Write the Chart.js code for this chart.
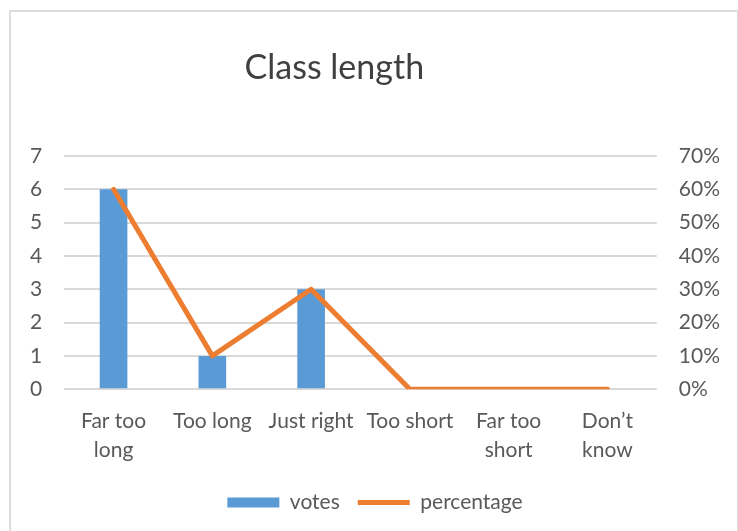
<!DOCTYPE html>
<html>
<head>
<meta charset="utf-8">
<script src="https://cdn.jsdelivr.net/npm/chart.js@4/dist/chart.umd.min.js"></script>
<style>
  html, body { margin: 0; padding: 0; background: #fff; }
  .wrap { position: relative; width: 738px; height: 531px; }
  .frame { position: absolute; left: 9px; top: 10px; width: 726px; height: 530px;
           border: 2px solid #dcdcdc; border-bottom: none; pointer-events: none; }
  canvas { position: absolute; left: 0; top: 0; }
</style>
</head>
<body>
<div class="wrap">
  <canvas id="chart" width="738" height="531"></canvas>
  <div class="frame"></div>
</div>
<script>
// chart data
const titleText = 'Class length';
const categories = [['Far too', 'long'], 'Too long', 'Just right', 'Too short', ['Far too', 'short'], ['Don\u2019t', 'know']];
const votes = [6, 1, 3, 0, 0, 0];
const percentage = [60, 10, 30, 0, 0, 0];

const font = 'Lato, "Open Sans", sans-serif';
const textColor = '#595959';
const gridColor = '#d9d9d9';

// draws the title off-centre like the original
const titlePlugin = {
    id: 'sideTitle',
    afterDraw(chart) {
        const ctx = chart.ctx;
        ctx.save();
        ctx.font = '34px ' + font;
        ctx.fillStyle = '#404040';
        ctx.textAlign = 'center';
        ctx.textBaseline = 'alphabetic';
        ctx.fillText(titleText, chart.width * 0.453, 79);
        ctx.restore();
    }
};

const ctx = document.getElementById('chart');
new Chart(ctx, {
    data: {
        labels: categories,
        datasets: [{
            type: 'line',
            label: 'percentage',
            data: percentage,
            yAxisID: 'y1',
            borderColor: '#ed7d31',
            backgroundColor: '#ed7d31',
            borderWidth: 5,
            pointRadius: 0,
            borderCapStyle: 'round',
            borderJoinStyle: 'round',
            pointStyle: 'line',
            order: 0
        }, {
            type: 'bar',
            label: 'votes',
            data: votes,
            yAxisID: 'y',
            backgroundColor: '#5b9bd5',
            categoryPercentage: 1,
            barPercentage: 0.28,
            pointStyle: 'rect',
            order: 1
        }]
    },
    options: {
        responsive: false,
        animation: false,
        layout: { padding: { top: 156, left: 8, right: -4, bottom: 8 } },
        plugins: {
            title: { display: false },
            tooltip: { enabled: false },
            legend: {
                position: 'bottom',
                reverse: true,
                labels: {
                    usePointStyle: true,
                    pointStyleWidth: 52,
                    boxHeight: 10,
                    padding: 18,
                    color: textColor,
                    font: { family: font, size: 21 }
                }
            }
        },
        scales: {
            x: {
                grid: { display: false },
                border: { display: false },
                ticks: { color: textColor, font: { family: font, size: 21, lineHeight: 1.4 }, maxRotation: 0, autoSkip: false, padding: 9 }
            },
            y: {
                position: 'left',
                min: 0,
                max: 7,
                border: { display: false },
                grid: { color: gridColor, lineWidth: 2, drawTicks: false },
                ticks: { stepSize: 1, color: textColor, font: { family: font, size: 21 }, padding: 22 }
            },
            y1: {
                position: 'right',
                min: 0,
                max: 70,
                border: { display: false },
                grid: { display: false, drawTicks: false },
                ticks: {
                    stepSize: 10,
                    color: textColor,
                    font: { family: font, size: 21 },
                    padding: 22,
                    callback: v => v + '%'
                }
            }
        }
    },
    plugins: [titlePlugin]
});
</script>
</body>
</html>
